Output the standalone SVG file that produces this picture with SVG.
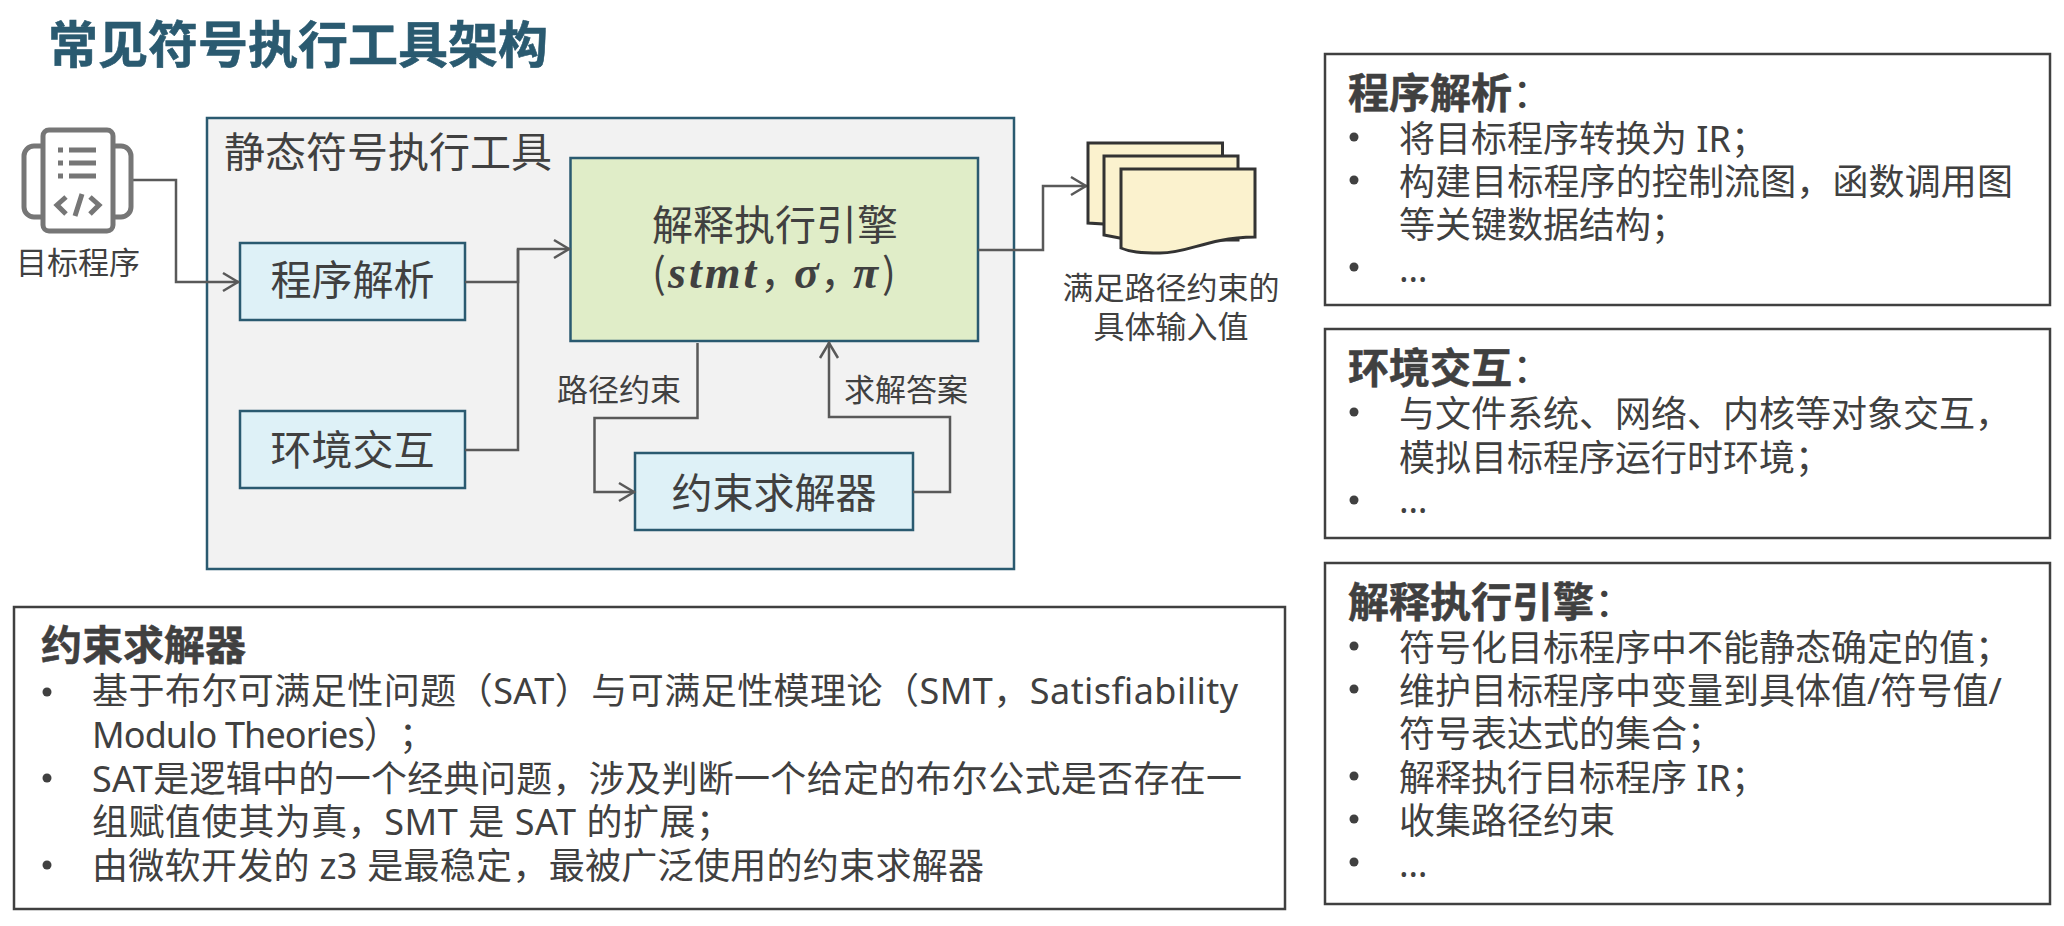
<svg xmlns="http://www.w3.org/2000/svg" width="2064" height="926" viewBox="0 0 2064 926">
<style>
text{font-family:"Noto Sans","Noto Sans CJK SC",sans-serif;fill:#404040;text-spacing-trim:space-all}
.t{font-family:"Noto Sans CJK SC","Noto Sans",sans-serif}
.title{font-size:50px;font-weight:700;fill:#2A5A70;stroke:#2A5A70;stroke-width:.6}
.l40{font-size:41px}.l30{font-size:31px}.m{text-anchor:middle}
.b{font-size:41px;font-weight:700;stroke:#404040;stroke-width:.5}
.p{font-size:36px}
.box{fill:#fff;stroke:#404040;stroke-width:2.5}
.blue{fill:#DEF1F7;stroke:#2A5A70;stroke-width:2.5}
.conn{fill:none;stroke:#595959;stroke-width:2.5}
.doc{fill:#FBF2CE;stroke:#333;stroke-width:3}
.ic{fill:#fff;stroke:#767676;stroke-width:5;stroke-linejoin:round;stroke-linecap:round}
.ig{fill:none;stroke:#767676;stroke-width:5}
.mm{font-family:"Liberation Serif",serif;font-weight:700;font-style:italic;font-size:46px}
.dot{fill:#404040}
</style>
<defs><marker id="arr" markerUnits="userSpaceOnUse" markerWidth="22" markerHeight="24" refX="19" refY="12" orient="auto"><path d="M3,3 L18,12 L3,21" fill="none" stroke="#595959" stroke-width="2.5"/></marker></defs>
<text class="title t" x="48" y="63">常见符号执行工具架构</text>
<g id="tool-frame"><rect x="207" y="118" width="807" height="451" fill="#F2F2F2" stroke="#2A5A70" stroke-width="2.5"/><text class="l40 t" x="224" y="167">静态符号执行工具</text></g>
<g id="engine"><rect x="570.5" y="158" width="407.5" height="183" fill="#E0EDC8" stroke="#2A5A70" stroke-width="2.5"/><text class="l40 t m" x="775" y="240">解释执行引擎</text><text class="l40 t" y="288"><tspan x="652">(</tspan><tspan class="mm" x="668" letter-spacing="3">stmt</tspan><tspan x="760">，</tspan><tspan class="mm" x="794">σ</tspan><tspan x="820">，</tspan><tspan class="mm" x="853">π</tspan><tspan x="882">)</tspan></text></g>
<g id="parser"><rect class="blue" x="240" y="243" width="225" height="77"/><text class="l40 t m" x="352.500" y="295">程序解析</text></g>
<g id="env"><rect class="blue" x="240" y="411" width="225" height="77"/><text class="l40 t m" x="352.500" y="465">环境交互</text></g>
<g id="solver"><rect class="blue" x="635" y="453" width="278" height="77"/><text class="l40 t m" x="774" y="508">约束求解器</text></g>
<g id="connectors">
<path class="conn" marker-end="url(#arr)" d="M133,180H176V282H239"/>
<path class="conn" marker-end="url(#arr)" d="M465,282H518V249H570"/>
<path class="conn" d="M465,450H518V249"/>
<path class="conn" marker-end="url(#arr)" d="M978,250H1043V186H1087"/>
<path class="conn" marker-end="url(#arr)" d="M697.500,343V418H594.500V492H635"/>
<path class="conn" marker-end="url(#arr)" d="M913,492H950V417H829V342"/>
</g>
<g id="source"><rect class="ic" x="24" y="146" width="107" height="71" rx="10"/><rect class="ic" x="43" y="130" width="70" height="101" rx="6"/>
<path class="ig" d="M69,150H96M69,163H96M69,176H96"/><path d="M58,147.500h5v5h-5zM58,160.500h5v5h-5zM58,173.500h5v5h-5z" fill="#767676"/><path class="ig" d="M66,197L57,205L66,214M90,197L99,205L90,214M82,194L75,216"/>
<text class="l30 t" x="16" y="274">目标程序</text></g>
<g id="output"><path class="doc" d="M1088,143H1222.500V225H1120L1088,223Z"/><path class="doc" d="M1104,156H1238V240H1130L1104,235Z"/><path class="doc" d="M1121,169H1255V237C1205,238 1190,253 1160,253C1140,253 1130,252 1121,248Z"/>
<text class="l30 t m" x="1171" y="299">满足路径约束的</text><text class="l30 t m" x="1171" y="338">具体输入值</text></g>
<text class="l30 t" x="557" y="401">路径约束</text><text class="l30 t" x="844" y="401">求解答案</text>
<g id="note-solver"><rect class="box" x="14" y="607" width="1271" height="302"/><text class="b t" x="41" y="660">约束求解器</text>
<circle class="dot" cx="47" cy="692" r="4.500"/><text class="p" x="92" y="704" textLength="1146">基于布尔可满足性问题（SAT）与可满足性模理论（SMT，Satisfiability</text><text class="p" x="92" y="748" textLength="343">Modulo Theories）；</text><circle class="dot" cx="47" cy="778" r="4.500"/><text class="p" x="92" y="792" textLength="1150">SAT是逻辑中的一个经典问题，涉及判断一个给定的布尔公式是否存在一</text><text class="p" x="92" y="835" textLength="640">组赋值使其为真，SMT 是 SAT 的扩展；</text><circle class="dot" cx="47" cy="865" r="4.500"/><text class="p" x="92" y="879" textLength="892">由微软开发的 z3 是最稳定，最被广泛使用的约束求解器</text></g>
<g id="note-parser"><rect class="box" x="1325" y="54" width="725" height="251"/><text class="b t" x="1348" y="108">程序解析<tspan font-weight="400" stroke="none">：</tspan></text>
<circle class="dot" cx="1354" cy="137" r="4.500"/><text class="p" x="1399" y="152">将目标程序转换为 IR；</text><circle class="dot" cx="1354" cy="180" r="4.500"/><text class="p" x="1399" y="195" textLength="614">构建目标程序的控制流图，函数调用图</text><text class="p" x="1399" y="238">等关键数据结构；</text><circle class="dot" cx="1354" cy="267" r="4.500"/><text class="p" x="1399" y="282">…</text></g>
<g id="note-env"><rect class="box" x="1325" y="329" width="725" height="209"/><text class="b t" x="1348" y="383">环境交互<tspan font-weight="400" stroke="none">：</tspan></text>
<circle class="dot" cx="1354" cy="412" r="4.500"/><text class="p" x="1399" y="427">与文件系统、网络、内核等对象交互，</text><text class="p" x="1399" y="471">模拟目标程序运行时环境；</text><circle class="dot" cx="1354" cy="500" r="4.500"/><text class="p" x="1399" y="513">…</text></g>
<g id="note-engine"><rect class="box" x="1325" y="563" width="725" height="341"/><text class="b t" x="1348" y="617">解释执行引擎<tspan font-weight="400" stroke="none">：</tspan></text>
<circle class="dot" cx="1354" cy="646" r="4.500"/><text class="p" x="1399" y="661">符号化目标程序中不能静态确定的值；</text><circle class="dot" cx="1354" cy="689" r="4.500"/><text class="p" x="1399" y="704">维护目标程序中变量到具体值/符号值/</text><text class="p" x="1399" y="747">符号表达式的集合；</text><circle class="dot" cx="1354" cy="776" r="4.500"/><text class="p" x="1399" y="791">解释执行目标程序 IR；</text><circle class="dot" cx="1354" cy="819" r="4.500"/><text class="p" x="1399" y="834">收集路径约束</text><circle class="dot" cx="1354" cy="862" r="4.500"/><text class="p" x="1399" y="877">…</text></g>
</svg>
